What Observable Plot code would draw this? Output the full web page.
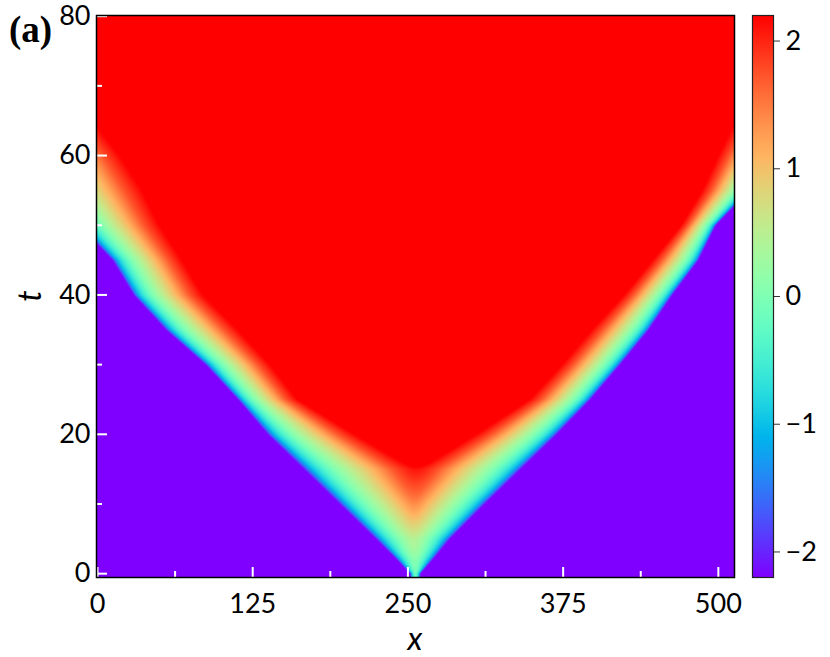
<!DOCTYPE html>
<html>
<head>
<meta charset="utf-8">
<script src="https://cdn.jsdelivr.net/npm/d3@7"></script>
<script src="https://cdn.jsdelivr.net/npm/@observablehq/plot@0.6"></script>
<style>
  body { margin: 0; background: #fff; }
  #wrap { position: relative; width: 830px; height: 657px; overflow: hidden; background: #fff; }
  #main, #cbar { position: absolute; top: 0; }
  #main { left: 0; }
  #cbar { left: 740px; }
  #labels { position: absolute; left: 0; top: 0; pointer-events: none; }
</style>
</head>
<body>
<div id="wrap">
  <div id="main"></div>
  <div id="cbar"></div>
  <svg id="labels" width="830" height="657">
    <text x="9" y="42" font-family="Liberation Serif, DejaVu Serif, serif" font-weight="bold" font-size="37">(a)</text>
    <text transform="translate(41,296) rotate(-90)" text-anchor="middle" font-family="Lato, sans-serif" font-style="italic" font-size="32">t</text>
    <text x="415" y="650" text-anchor="middle" font-family="Lato, sans-serif" font-style="italic" font-size="32">x</text>
  </svg>
</div>
<script>
// ---- data ----
// time rows (t) at which the front positions were read
const tRows        = [0,   2,   5,   10,  15,  20,  25,  30,  35,  40,  45,  50,  55,  60,  65,  70,  80];
// left front: x where the purple (-2.2) region ends, x where the red (+2.2) region begins
const leftPurple   = [252, 241, 224, 195, 166, 137, 113, 87,  55,  29,  12,  -15, -40, -55, -80, -110, -170];
const leftRed      = [267, 284, 291, 275, 255, 207, 161, 139, 113, 85,  68,  50,  36,  18,  -4,  -30,  -80];
// right front: x where the purple region begins, x where the red region ends
const rightPurple  = [260, 270, 284, 312, 341, 370, 397, 421, 444, 463, 484, 498, 525, 545, 570, 595, 650];
const rightRed     = [245, 228, 221, 237, 259, 305, 348, 374, 398, 424, 447, 470, 487, 500, 514, 540, 590];
// value profile across a front (fraction of the way from purple edge to red edge -> value)
const profileS     = [0,    0.03, 0.08, 0.16, 0.27, 0.42, 0.62, 0.8, 1,   2];
const profileV     = [-2.2, -1.6, -1.0, -0.5, 0.0,  0.5,  1.1,  1.7, 2.2, 5.2];
// axes
const xMajor = [0, 125, 250, 375, 500];
const xMinor = [62.5, 187.5, 312.5, 437.5];
const yMajor = [0, 20, 40, 60, 80];
const yMinor = [10, 30, 50, 70];
const cbTicks = [-2, -1, 0, 1, 2];
const valueDomain = [-2.2, 2.2];

// ---- helpers ----
function lerpTable(xs, ys, v) {
  if (v <= xs[0]) return ys[0];
  const n = xs.length;
  if (v >= xs[n - 1]) return ys[n - 1];
  let i = 1;
  while (xs[i] < v) i++;
  const f = (v - xs[i - 1]) / (xs[i] - xs[i - 1]);
  return ys[i - 1] + f * (ys[i] - ys[i - 1]);
}
const K = 0.25; // smoothing where the two fronts meet
function field(x, t) {
  const pl = lerpTable(tRows, leftPurple, t);
  const rl = lerpTable(tRows, leftRed, t);
  const pr = lerpTable(tRows, rightPurple, t);
  const rr = lerpTable(tRows, rightRed, t);
  const vL = lerpTable(profileS, profileV, (x - pl) / (rl - pl));
  const vR = lerpTable(profileS, profileV, (pr - x) / (pr - rr));
  const m = Math.min(vL, vR);
  const v = m - K * Math.log(Math.exp(-(vL - m) / K) + Math.exp(-(vR - m) / K));
  return Math.max(valueDomain[0], Math.min(valueDomain[1], v));
}
// matplotlib "rainbow" colormap
function rainbow(u) {
  const r = Math.min(1, Math.abs(2 * u - 0.5));
  const g = Math.sin(Math.PI * u);
  const b = Math.cos(Math.PI * u / 2);
  const c = v => Math.round(255 * Math.max(0, Math.min(1, v)));
  return `rgb(${c(r)},${c(g)},${c(b)})`;
}
const colorScale = {type: "linear", domain: valueDomain, interpolate: rainbow, clamp: true};
const fontStyle = {fontFamily: "Lato, sans-serif", fontSize: "27px", color: "black", background: "transparent", overflow: "visible"};

const xDom = [-0.8, 513], yDom = [-0.55, 80.1];
const main = Plot.plot({
  width: 740, height: 657,
  marginLeft: 96, marginRight: 6, marginTop: 15, marginBottom: 80,
  x: {domain: xDom},
  y: {domain: yDom},
  color: colorScale,
  style: fontStyle,
  marks: [
    Plot.raster({fill: (x, y) => field(x, y), x1: xDom[0], x2: xDom[1], y1: yDom[0], y2: yDom[1], pixelSize: 1}),
    Plot.ruleX(xMajor, {x: d => d, stroke: "white", strokeWidth: 2, insetTop: 552}),
    Plot.ruleX(xMinor, {x: d => d, stroke: "white", strokeWidth: 2, insetTop: 556}),
    Plot.ruleY(yMajor, {y: d => d, stroke: "white", strokeWidth: 2, insetRight: 627}),
    Plot.ruleY(yMinor, {y: d => d, stroke: "white", strokeWidth: 2, insetRight: 632}),
    Plot.axisX({ticks: xMajor, tickSize: 0, tickPadding: 16, label: null, fontSize: 27, tickFormat: d3.format("d")}),
    Plot.axisY({ticks: yMajor, tickSize: 0, tickPadding: 6, label: null, fontSize: 27, tickFormat: d3.format("d")}),
    Plot.frame({stroke: "black", strokeWidth: 1.5})
  ]
});
document.getElementById("main").appendChild(main);

const cbar = Plot.plot({
  width: 90, height: 657,
  marginLeft: 12, marginRight: 57, marginTop: 15, marginBottom: 80,
  x: {domain: [0, 1], axis: null},
  y: {domain: valueDomain},
  color: colorScale,
  style: fontStyle,
  marks: [
    Plot.raster({fill: (x, y) => y, x1: 0, x2: 1, y1: valueDomain[0], y2: valueDomain[1], pixelSize: 1}),
    Plot.axisY({anchor: "right", ticks: cbTicks, tickSize: 6, tickPadding: 6, label: null, fontSize: 27, stroke: "#333", tickFormat: d3.format("d")}),
    Plot.frame({stroke: "#222", strokeWidth: 1.2})
  ]
});
document.getElementById("cbar").appendChild(cbar);
</script>
</body>
</html>
